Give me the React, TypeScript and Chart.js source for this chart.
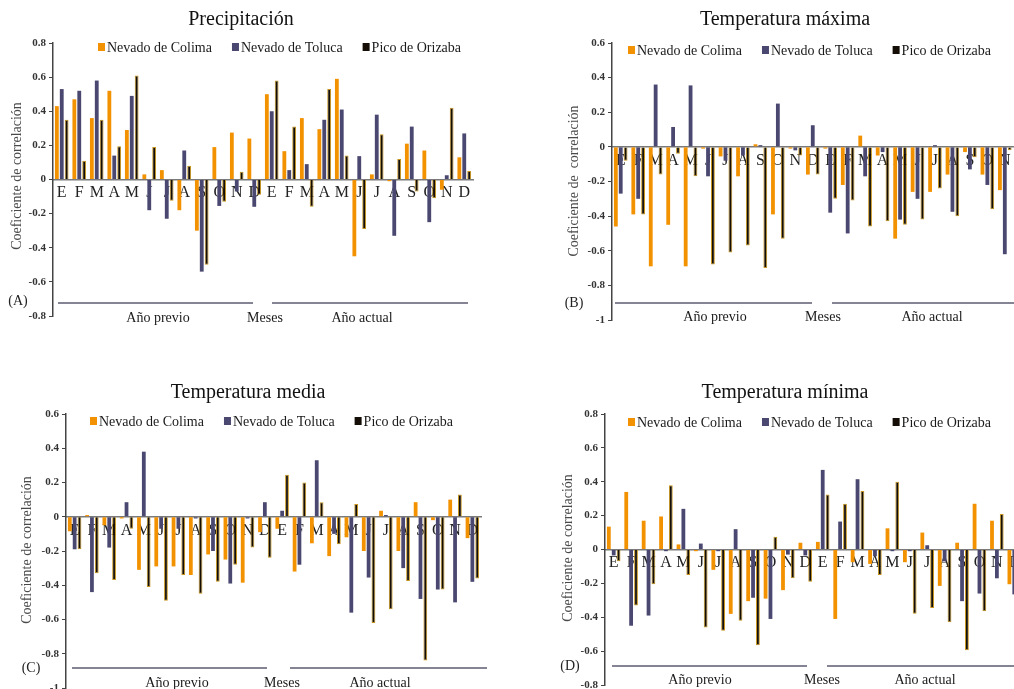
import React, { useEffect, useRef } from 'react';
import { Chart, registerables } from 'chart.js';

Chart.register(...registerables);

const SERIF = '"Liberation Serif", "Times New Roman", serif';

const MONTHS = ['E', 'F', 'M', 'A', 'M', 'J', 'J', 'A', 'S', 'O', 'N', 'D', 'E', 'F', 'M', 'A', 'M', 'J', 'J', 'A', 'S', 'O', 'N', 'D'];
const SERIES = ['Nevado de Colima', 'Nevado de Toluca', 'Pico de Orizaba'];

// (A) Precipitación — previous year (12) + current year (12)
const PRECIP_COLIMA = [0.43, 0.47, 0.36, 0.52, 0.29, 0.03, 0.055, -0.18, -0.3, 0.19, 0.275, 0.24, 0.5, 0.166, 0.36, 0.295, 0.59, -0.45, 0.03, -0.01, 0.21, 0.17, -0.06, 0.13];
const PRECIP_TOLUCA = [0.53, 0.52, 0.58, 0.14, 0.49, -0.18, -0.23, 0.17, -0.54, -0.155, -0.07, -0.16, 0.4, 0.055, 0.09, 0.35, 0.41, 0.137, 0.38, -0.33, 0.31, -0.25, 0.025, 0.27];
const PRECIP_ORIZABA = [0.35, 0.11, 0.35, 0.195, 0.61, 0.19, -0.125, 0.08, -0.5, -0.13, 0.045, -0.09, 0.58, 0.31, -0.16, 0.53, 0.14, -0.29, 0.265, 0.12, -0.07, -0.11, 0.42, 0.05];

// (B) Temperatura máxima
const TMAX_COLIMA = [-0.46, -0.39, -0.69, -0.45, -0.69, -0.01, -0.055, -0.17, 0.015, -0.39, -0.01, -0.16, -0.01, -0.22, 0.065, -0.05, -0.53, -0.26, -0.26, -0.16, -0.03, -0.16, -0.25, -0.22];
const TMAX_TOLUCA = [-0.27, -0.3, 0.36, 0.115, 0.355, -0.17, -0.08, -0.05, 0.01, 0.25, -0.02, 0.125, -0.38, -0.5, -0.17, -0.03, -0.42, -0.3, 0.01, -0.375, -0.13, -0.22, -0.62, -0.3];
const TMAX_ORIZABA = [-0.08, -0.39, -0.16, -0.04, -0.17, -0.68, -0.61, -0.57, -0.7, -0.53, -0.05, -0.16, -0.3, -0.31, -0.46, -0.43, -0.45, -0.42, -0.24, -0.4, -0.06, -0.36, -0.02, -0.25];

// (C) Temperatura media
const TMED_COLIMA = [-0.085, 0.01, -0.05, -0.01, -0.31, -0.29, -0.29, -0.34, -0.22, -0.25, -0.385, -0.09, -0.07, -0.32, -0.155, -0.23, -0.12, -0.2, 0.035, -0.2, 0.085, -0.02, 0.1, -0.125];
const TMED_TOLUCA = [-0.19, -0.44, -0.18, 0.085, 0.38, -0.07, -0.07, -0.01, -0.2, -0.39, -0.01, 0.085, 0.035, -0.28, 0.33, -0.1, -0.56, -0.355, 0.01, -0.3, -0.48, -0.425, -0.5, -0.38];
const TMED_ORIZABA = [-0.19, -0.33, -0.37, -0.07, -0.41, -0.49, -0.34, -0.45, -0.38, -0.28, -0.18, -0.24, 0.245, 0.2, 0.085, -0.16, 0.075, -0.62, -0.54, -0.375, -0.84, -0.425, 0.13, -0.36];

// (D) Temperatura mínima
const TMIN_COLIMA = [0.135, 0.34, 0.17, 0.195, 0.03, -0.01, -0.12, -0.38, -0.305, -0.29, -0.24, 0.04, 0.045, -0.41, -0.075, -0.085, 0.125, -0.075, 0.1, -0.215, 0.04, 0.27, 0.17, -0.205];
const TMIN_TOLUCA = [-0.035, -0.45, -0.39, -0.01, 0.24, 0.035, -0.01, 0.12, -0.285, -0.41, -0.03, -0.035, 0.47, 0.165, 0.415, -0.04, -0.01, -0.01, 0.025, -0.07, -0.305, -0.26, -0.17, -0.265];
const TMIN_ORIZABA = [-0.07, -0.33, -0.205, 0.38, -0.15, -0.46, -0.48, -0.42, -0.565, 0.075, -0.17, -0.19, 0.325, 0.27, 0.345, -0.15, 0.4, -0.38, -0.345, -0.43, -0.595, -0.365, 0.21, -0.35];

const COLORS = ['#F39200', '#4A4870', '#140e06'];

const CW = 1040;
const CH = 720;

type PanelCfg = {
  title: string; titleX: number; titleY: number;
  min: number; max: number;
  area: { left: number; right: number; top: number; bottom: number };
  legendX: number; legendY: number;
  yTitle: string; yTitleX: number; yTitleY: number;
  tag: string; tagX: number; tagY: number;
  lineY: number; segs: number[][]; textY: number; textXs: number[];
  series: number[][];
};

const PANELS: PanelCfg[] = [
  {
    title: 'Precipitación', titleX: 241, titleY: 20, min: -0.8, max: 0.8,
    area: { left: 53, right: 473, top: 43, bottom: 316 },
    legendX: 98, legendY: 47, yTitle: 'Coeficiente de correlación', yTitleX: 17, yTitleY: 176,
    tag: '(A)', tagX: 18, tagY: 301, lineY: 303, segs: [[58, 253], [272, 468]], textY: 318, textXs: [158, 265, 362],
    series: [PRECIP_COLIMA, PRECIP_TOLUCA, PRECIP_ORIZABA],
  },
  {
    title: 'Temperatura máxima', titleX: 785, titleY: 20, min: -1, max: 0.6,
    area: { left: 612, right: 1031, top: 43, bottom: 320 },
    legendX: 628, legendY: 50, yTitle: 'Coeficiente de  correlación', yTitleX: 574, yTitleY: 181,
    tag: '(B)', tagX: 574, tagY: 303, lineY: 303, segs: [[615, 812], [832, 1040]], textY: 317, textXs: [715, 823, 932],
    series: [TMAX_COLIMA, TMAX_TOLUCA, TMAX_ORIZABA],
  },
  {
    title: 'Temperatura media', titleX: 248, titleY: 393, min: -1, max: 0.6,
    area: { left: 66, right: 481, top: 414, bottom: 688 },
    legendX: 90, legendY: 421, yTitle: 'Coeficiente de correlación', yTitleX: 27, yTitleY: 550,
    tag: '(C)', tagX: 31, tagY: 668, lineY: 668, segs: [[72, 267], [290, 487]], textY: 683, textXs: [177, 282, 380],
    series: [TMED_COLIMA, TMED_TOLUCA, TMED_ORIZABA],
  },
  {
    title: 'Temperatura mínima', titleX: 785, titleY: 393, min: -0.8, max: 0.8,
    area: { left: 605, right: 1023, top: 414, bottom: 685 },
    legendX: 628, legendY: 422, yTitle: 'Coeficiente de correlación', yTitleX: 568, yTitleY: 548,
    tag: '(D)', tagX: 570, tagY: 666, lineY: 666, segs: [[612, 807], [827, 1040]], textY: 680, textXs: [700, 822, 925],
    series: [TMIN_COLIMA, TMIN_TOLUCA, TMIN_ORIZABA],
  },
];

const fmt = (v: any) => {
  const n = Math.round(Number(v) * 10) / 10;
  return n === 0 ? '0' : String(n);
};

function Panel({ cfg }: { cfg: PanelCfg }) {
  const ref = useRef<HTMLCanvasElement | null>(null);
  useEffect(() => {
    if (!ref.current) return;
    const Y_W = 45;
    const deco = {
      id: 'deco',
      afterDraw(chart: any) {
        const ctx = chart.ctx;
        ctx.save();
        // title
        ctx.fillStyle = '#111';
        ctx.font = `20px ${SERIF}`;
        ctx.textAlign = 'center';
        ctx.textBaseline = 'middle';
        ctx.fillText(cfg.title, cfg.titleX, cfg.titleY);
        // legend
        ctx.font = `14px ${SERIF}`;
        ctx.textAlign = 'left';
        let x = cfg.legendX;
        chart.data.datasets.forEach((ds: any) => {
          ctx.fillStyle = ds.backgroundColor;
          ctx.fillRect(x, cfg.legendY - 4, 7, 8);
          x += 9;
          ctx.fillStyle = '#1a1a1a';
          ctx.fillText(ds.label, x, cfg.legendY + 1);
          x += ctx.measureText(ds.label).width + 20;
        });
        // y title
        ctx.save();
        ctx.translate(cfg.yTitleX, cfg.yTitleY);
        ctx.rotate(-Math.PI / 2);
        ctx.textAlign = 'center';
        ctx.fillStyle = '#4a4a4a';
        ctx.font = `14px ${SERIF}`;
        ctx.fillText(cfg.yTitle, 0, 0);
        ctx.restore();
        // tag
        ctx.fillStyle = '#222';
        ctx.font = `14px ${SERIF}`;
        ctx.textAlign = 'center';
        ctx.fillText(cfg.tag, cfg.tagX, cfg.tagY);
        // bottom lines
        ctx.strokeStyle = '#5b5b70';
        ctx.lineWidth = 1.5;
        cfg.segs.forEach((s) => {
          ctx.beginPath();
          ctx.moveTo(s[0], cfg.lineY);
          ctx.lineTo(s[1], cfg.lineY);
          ctx.stroke();
        });
        ctx.fillStyle = '#1a1a1a';
        ctx.font = `14px ${SERIF}`;
        ['Año previo', 'Meses', 'Año actual'].forEach((t, i) => {
          ctx.fillText(t, cfg.textXs[i], cfg.textY);
        });
        ctx.restore();
      },
    };
    const chart = new Chart(ref.current, {
      type: 'bar',
      data: {
        labels: MONTHS,
        datasets: cfg.series.map((d, i) => ({
          label: SERIES[i],
          data: d,
          backgroundColor: COLORS[i],
          borderColor: i === 2 ? '#C8961E' : COLORS[i],
          borderWidth: i === 2 ? 1 : 0,
          categoryPercentage: 0.84,
          barPercentage: 0.78,
        })),
      },
      options: {
        responsive: false,
        animation: false,
        events: [],
        layout: {
          padding: {
            left: cfg.area.left - Y_W,
            right: CW - cfg.area.right,
            top: cfg.area.top,
            bottom: CH - cfg.area.bottom,
          },
        },
        plugins: {
          legend: { display: false },
          title: { display: false },
          tooltip: { enabled: false },
        },
        scales: {
          x: {
            type: 'category',
            position: { y: 0 } as any,
            offset: true,
            grid: { display: false, drawTicks: false },
            border: { display: true, color: '#7a7a7a', width: 1.5 },
            ticks: {
              font: { family: SERIF, size: 16 },
              color: '#222',
              padding: 4,
              maxRotation: 0,
              autoSkip: false,
            },
          },
          y: {
            min: cfg.min,
            max: cfg.max,
            afterFit: (s: any) => { s.width = Y_W; },
            ticks: {
              stepSize: 0.2,
              font: { family: SERIF, size: 11, weight: 'bold' },
              color: '#333',
              padding: 3,
              callback: (v: any) => fmt(v),
            },
            grid: { display: true, drawOnChartArea: false, drawTicks: true, tickLength: 4, color: '#444' },
            border: { display: true, color: '#444', width: 1.5 },
          },
        },
      } as any,
      plugins: [deco],
    });
    return () => chart.destroy();
  }, [cfg]);
  return (
    <canvas
      ref={ref}
      width={CW}
      height={CH}
      style={{ position: 'absolute', left: 0, top: 0, width: CW, height: CH }}
    />
  );
}

export default function App() {
  return (
    <div style={{ position: 'fixed', left: 0, top: 0, width: 1014, height: 689, overflow: 'hidden', background: '#fff' }}>
      {PANELS.map((p, i) => (
        <Panel key={i} cfg={p} />
      ))}
    </div>
  );
}
